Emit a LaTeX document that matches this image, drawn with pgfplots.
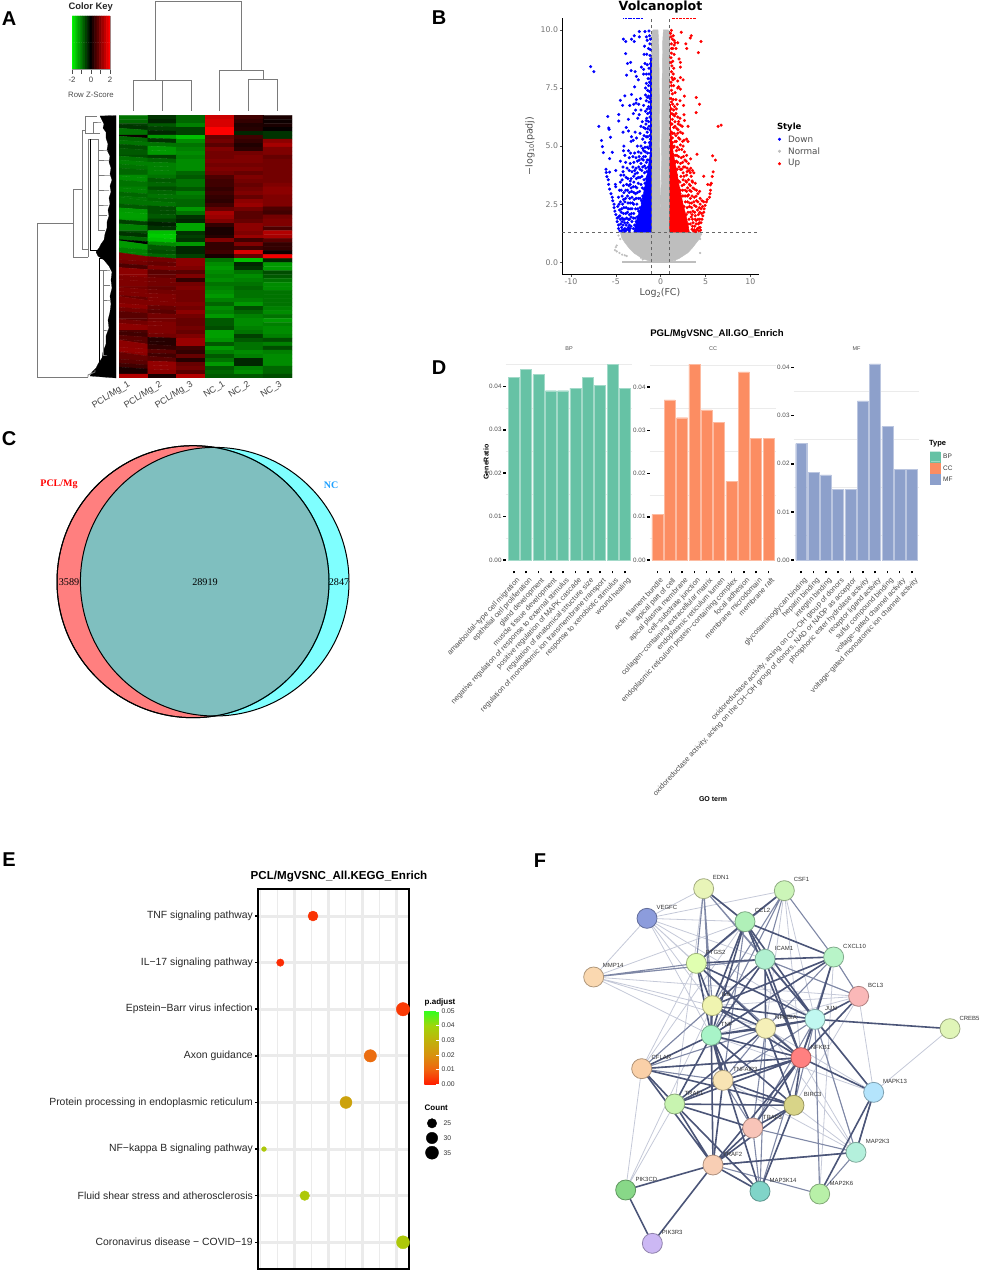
\documentclass[border=0pt]{standalone}
\usepackage{fontspec}
\usepackage{pgfplots}
\pgfplotsset{compat=1.18}
\setmainfont{Liberation Sans}
\newfontfamily\dejavu{DejaVu Sans}
\newfontfamily\libserif{Liberation Serif}
\newcommand{\fs}[1]{\fontsize{#1}{#1}\selectfont}
\pgfkeys{/pgf/number format/assume math mode=true}

\definecolor{gridg}{HTML}{EBEBEB}
\definecolor{tickg}{HTML}{4D4D4D}
\definecolor{normg}{HTML}{BEBEBE}
\definecolor{goBP}{HTML}{66C2A5}
\definecolor{goCC}{HTML}{FC8D62}
\definecolor{goMF}{HTML}{8DA0CB}
\definecolor{dend}{HTML}{7A7A7A}
\definecolor{vennR}{HTML}{FF0000}
\definecolor{vennC}{HTML}{00FFFF}
\definecolor{edgeD}{HTML}{4B5578}
\definecolor{edgeM}{HTML}{7F88A6}
\definecolor{edgeL}{HTML}{C5C9D8}
\definecolor{nEDN}{HTML}{E8F4B8}
\definecolor{nCSF}{HTML}{CCF5B8}
\definecolor{nVEG}{HTML}{8C9CDC}
\definecolor{nCCL}{HTML}{B0F0B8}
\definecolor{nICA}{HTML}{B0F0D0}
\definecolor{nCXC}{HTML}{B8F4C8}
\definecolor{nPTG}{HTML}{E0FFB0}
\definecolor{nMMP}{HTML}{FAD8B0}
\definecolor{nBCL}{HTML}{FAB8B8}
\definecolor{nIL}{HTML}{F0F4B0}
\definecolor{nJUN}{HTML}{C0F8F0}
\definecolor{nNFA}{HTML}{F5F0B8}
\definecolor{nTNF}{HTML}{A8F4C8}
\definecolor{nCRE}{HTML}{E0F5B8}
\definecolor{nNF1}{HTML}{FF8080}
\definecolor{nCFL}{HTML}{FAD0A8}
\definecolor{nTA3}{HTML}{F8E4B4}
\definecolor{nM13}{HTML}{B4E4FC}
\definecolor{nTR1}{HTML}{C8F4B0}
\definecolor{nBIR}{HTML}{D8D488}
\definecolor{nTR3}{HTML}{F8C4B8}
\definecolor{nK3}{HTML}{B4F0DC}
\definecolor{nTR2}{HTML}{F8CEB4}
\definecolor{nPCD}{HTML}{88D888}
\definecolor{nM14}{HTML}{80D4C8}
\definecolor{nK6}{HTML}{B8F0A8}
\definecolor{nPR3}{HTML}{CCB8F4}

% every panel is placed by its pixel box in the reference: left, top, width, height
\pgfplotsset{
  panel/.style n args={4}{scale only axis, anchor=south west,
    at={(#1pt,{1272pt-#2pt-#4pt})}, width=#3pt, height=#4pt},
  colormap={gkr}{rgb255(0)=(0,255,0) rgb255(1)=(0,0,0) rgb255(2)=(255,0,0)},
  goaxis/.style={ybar, bar width=11pt, axis line style={draw=none},
    xtick={1,...,10}, ytick={0,0.01,0.02,0.03,0.04},
    minor ytick={0.005,0.015,0.025,0.035,0.045}, yminorgrids,
    minor grid style={gridg, line width=1pt}, minor tick length=0pt,
    tick style={black, line width=1.5pt}, major tick length=2.5pt, tick align=outside,
    xtick pos=bottom, ytick pos=left, scaled y ticks=false,
    yticklabel style={font=\fs{6.3}, text=tickg, /pgf/number format/fixed,
      /pgf/number format/zerofill, /pgf/number format/precision=2, inner sep=1.5pt},
    xticklabel style={font=\fs{7.4}, text=tickg, rotate=47, anchor=north east,
      inner sep=1pt, yshift=-3pt}},
  prot/.style={only marks, mark=*, mark size=10pt,
    mark options={fill=#1, draw=#1!70!black, line width=0.8pt}}
}
\tikzset{
  netlab/.style={font=\fs{6}, text=black!80, anchor=west, inner sep=0pt},
  samp/.style={font=\fs{9}, text=black!75, rotate=32, anchor=north east, inner sep=0pt}
}

\begin{document}
\begin{tikzpicture}
\useasboundingbox (0,0) rectangle (996pt,1272pt);

% ---- layer in pixel coordinates: dendrograms, texts and small legends
\begin{axis}[panel={0}{0}{996}{1272}, xmin=0, xmax=996, ymin=0, ymax=1272, y dir=reverse,
  hide axis, clip=false]
% top dendrogram
\addplot[dend, line width=0.9pt] coordinates {(133.3,111)(133.3,80)(176.7,80)};
\addplot[dend, line width=0.9pt] coordinates {(162.3,111)(162.3,80.7)(191,80.7)(191,111)};
\addplot[dend, line width=0.9pt] coordinates {(155,80)(155,1.7)(241.3,1.7)(241.3,70.3)};
\addplot[dend, line width=0.9pt] coordinates {(219.7,111)(219.7,70.3)(263.3,70.3)(263.3,79.3)};
\addplot[dend, line width=0.9pt] coordinates {(248.7,111)(248.7,79.3)(277.7,79.3)(277.7,111)};
% left dendrogram, leaves as one mass
\addplot[black, fill=black, line width=0.2pt] coordinates {(116,115.5)(100,116)(102,120)(104,124)(103,128)(106,132)(106,138)(108,144)(107,150)(110,156)(109,162)(111,168)(110,174)(112,180)(110,186)(111,192)(109,198)(110,204)(108,210)(109,216)(107,222)(107,228)(105,234)(104,240)(101,244)(99,248)(96,252)(98,256)(104,260)(109,266)(112,272)(111,280)(112,288)(110,296)(111,304)(110,312)(108,320)(109,328)(106,336)(106,344)(103,352)(102,358)(98,364)(96,368)(92,372)(90,376)(116,378)(116,115.5)};
\addplot[dend, line width=0.9pt] coordinates {(88,377.3)(37.7,377.3)(37.7,223.7)(73.3,223.7)};
\addplot[dend, line width=0.9pt] coordinates {(88,257.3)(73.3,257.3)(73.3,189)(82,189)};
\addplot[dend, line width=0.9pt] coordinates {(88,249)(82,249)(82,130)(85,130)};
\addplot[dend, line width=0.9pt] coordinates {(97,116)(85,116)(85,133)(93,133)(93,122)(101,122)(93,122)(93,133)(100,133)};
\addplot[dend, line width=0.9pt] coordinates {(88,257.3)(88,139)(98,139)(98,230)(105,230)};
\addplot[black, line width=0.7pt] coordinates {(90.5,139)(90.5,250)(100,250)};
\addplot[dend, line width=0.6pt] coordinates {(98,150)(108,150)(98,150)(98,160)(109,160)(98,160)(98,175)(110,175)(98,175)(98,190)(109,190)(98,190)(98,205)(108,205)(98,205)(98,215)(107,215)};
\addplot[dend, line width=0.9pt] coordinates {(88,377)(88,375)(95,372)(95,370)};
\addplot[black, line width=0.7pt] coordinates {(99.5,258)(108,258)(99.5,258)(99.5,372)(103,372)};
\addplot[dend, line width=0.6pt] coordinates {(99.5,270)(110,270)(103,270)(103,355)(107,355)(103,355)(103,330)(108,330)(103,330)(103,300)(110,300)(103,300)(103,285)(110,285)};
% panel letters
\node[font=\fs{20}\bfseries] at (9,19) {A};
\node[font=\fs{20}\bfseries] at (439,18) {B};
\node[font=\fs{20}\bfseries] at (9,439) {C};
\node[font=\fs{20}\bfseries] at (439,368) {D};
\node[font=\fs{20}\bfseries] at (9,860) {E};
\node[font=\fs{20}\bfseries] at (540,861) {F};
% colour key texts
\node[font=\fs{9.4}\bfseries, text=black!85] at (90.7,7.3) {Color Key};
\node[font=\fs{7.8}, text=black!70] at (91,95) {Row Z-Score};
% heatmap sample names
\node[samp] at (127,380) {PCL/Mg\_1};
\node[samp] at (159,380) {PCL/Mg\_2};
\node[samp] at (190,380) {PCL/Mg\_3};
\node[samp] at (222,380) {NC\_1};
\node[samp] at (247,380) {NC\_2};
\node[samp] at (279,380) {NC\_3};
% volcano title and legend
\node[font=\dejavu\bfseries\fs{12.6}] at (660.5,7) {Volcanoplot};
\node[font=\dejavu\fs{9.5}, text=tickg] at (660,293) {Log\raisebox{-1.5pt}{\fs{6.5}2}(FC)};
\node[font=\dejavu\fs{9.5}, text=tickg, rotate=90] at (530,146) {−log\raisebox{-1.5pt}{\fs{6.5}10}(padj)};
\node[font=\dejavu\bfseries\fs{8.5}, anchor=west] at (773.5,126.7) {Style};
\addplot[only marks, mark=*, mark size=1.3pt, blue] coordinates {(779.5,139.3)};
\addplot[only marks, mark=*, mark size=1.3pt, normg] coordinates {(779.5,151.3)};
\addplot[only marks, mark=*, mark size=1.3pt, red] coordinates {(779.5,163.7)};
\node[font=\dejavu\fs{8.8}, text=tickg, anchor=west, inner sep=0pt] at (788,139.3) {Down};
\node[font=\dejavu\fs{8.8}, text=tickg, anchor=west, inner sep=0pt] at (788,151.3) {Normal};
\node[font=\dejavu\fs{8.8}, text=tickg, anchor=west, inner sep=0pt] at (788,163.7) {Up};
% GO bar texts and legend
\node[font=\fs{9.6}\bfseries] at (717,334.5) {PGL/MgVSNC\_All.GO\_Enrich};
\node[font=\fs{5.5}, text=tickg] at (569,349) {BP};
\node[font=\fs{5.5}, text=tickg] at (713,349) {CC};
\node[font=\fs{5.5}, text=tickg] at (856.5,349) {MF};
\node[font=\fs{7}\bfseries, rotate=90] at (486,462) {GeneRatio};
\node[font=\fs{7}\bfseries] at (713,799) {GO term};
\node[font=\fs{7.5}\bfseries, anchor=west, inner sep=0pt] at (929,444) {Type};
\addplot[goBP, fill=goBP] coordinates {(930,451.7)(940,451.7)(940,461.7)(930,461.7)(930,451.7)};
\addplot[goCC, fill=goCC] coordinates {(930,462.9)(940,462.9)(940,472.9)(930,472.9)(930,462.9)};
\addplot[goMF, fill=goMF] coordinates {(930,474)(940,474)(940,484)(930,484)(930,474)};
\node[font=\fs{6.5}, text=black!80, anchor=west, inner sep=0pt] at (943,456.7) {BP};
\node[font=\fs{6.5}, text=black!80, anchor=west, inner sep=0pt] at (943,467.9) {CC};
\node[font=\fs{6.5}, text=black!80, anchor=west, inner sep=0pt] at (943,479) {MF};
% KEGG legend
\node[font=\fs{11.6}\bfseries] at (339,876.5) {PCL/MgVSNC\_All.KEGG\_Enrich};
\node[font=\fs{8}\bfseries, anchor=west, inner sep=0pt] at (424.5,1002.7) {p.adjust};
\node[font=\fs{8}\bfseries, anchor=west, inner sep=0pt] at (424.5,1107.3) {Count};
\addplot[only marks, mark=*, mark size=4.7pt, black] coordinates {(432,1123.3)};
\addplot[only marks, mark=*, mark size=5.7pt, black] coordinates {(432,1138)};
\addplot[only marks, mark=*, mark size=6.5pt, black] coordinates {(432,1152.7)};
\node[font=\fs{6.8}, text=black!80, anchor=west, inner sep=0pt] at (443.5,1123.3) {25};
\node[font=\fs{6.8}, text=black!80, anchor=west, inner sep=0pt] at (443.5,1138) {30};
\node[font=\fs{6.8}, text=black!80, anchor=west, inner sep=0pt] at (443.5,1152.7) {35};
\end{axis}

% ---- A: colour key
\begin{axis}[panel={72}{16}{38}{53}, xmin=-2, xmax=2, ymin=-0.5, ymax=1.5,
  colormap name=gkr, point meta min=-2, point meta max=2,
  ytick=\empty, xtick={-2,-1,0,1,2}, xticklabels={-2,,0,,2},
  xtick pos=bottom, tick align=outside, major tick length=5pt,
  tick style={black!70, line width=0.5pt}, axis line style={black!40, line width=0.3pt},
  xticklabel style={font=\fs{7.8}, text=black!75, inner sep=1.5pt, yshift=-1.5pt}]
\addplot[matrix plot*, mesh/cols=17, point meta=explicit]
  table[row sep=\\, header=false, x expr={-2+0.25*mod(\coordindex,17)}, y expr={int(\coordindex/17)}, meta index=0] {
-2\\-1.75\\-1.5\\-1.25\\-1\\-0.75\\-0.5\\-0.25\\0\\0.25\\0.5\\0.75\\1\\1.25\\1.5\\1.75\\2\\
-2\\-1.75\\-1.5\\-1.25\\-1\\-0.75\\-0.5\\-0.25\\0\\0.25\\0.5\\0.75\\1\\1.25\\1.5\\1.75\\2\\
};
\end{axis}

% ---- A: heatmap, one value per sample and row band
\begin{axis}[panel={119}{115.3}{173}{262.7}, xmin=-0.5, xmax=5.5, ymin=-0.5, ymax=65.5, y dir=reverse,
  hide axis, point meta min=-2, point meta max=2, colormap name=gkr]
\addplot[matrix plot*, mesh/cols=6, point meta=explicit]
  table[row sep=\\, header=false, x expr={int(mod(\coordindex,6))}, y expr={int(\coordindex/6)}, meta index=0] {
-0.9\\-0.4\\-0.8\\1.6\\0.5\\0.2\\
-0.8\\-0.3\\-0.8\\1.7\\0.4\\0.1\\
-0.5\\-0.7\\-1.0\\1.7\\0.25\\0.2\\
-0.4\\-0.5\\-0.5\\2\\0.3\\0.05\\
-0.9\\-0.3\\-0.5\\2\\-0.3\\-0.4\\
0.1\\-1.2\\-1.5\\0.8\\0.5\\-0.4\\
-0.8\\-0.4\\-1.1\\0.9\\0.4\\1.1\\
-0.9\\-0.9\\-0.9\\0.7\\0.25\\1.3\\
-0.6\\-1.2\\-1.0\\1.0\\0.35\\1.0\\
-0.7\\-1.2\\-1.1\\0.9\\0.9\\1.0\\
-0.6\\-0.5\\-1.0\\0.9\\1.0\\0.8\\
-0.9\\-0.8\\-1.1\\1.0\\1.0\\0.9\\
-1.0\\-1.0\\-1.1\\0.9\\0.9\\0.9\\
-0.9\\-1.0\\-1.1\\1.0\\1.0\\0.9\\
-0.8\\-1.0\\-0.8\\0.9\\0.8\\0.9\\
-1.1\\-0.9\\-0.7\\0.6\\1.0\\0.9\\
-1.1\\-0.7\\-0.9\\0.5\\0.9\\0.9\\
-0.9\\-0.8\\-0.9\\0.5\\0.8\\1.0\\
-1.0\\-0.6\\-0.7\\0.4\\0.9\\1.1\\
-1.0\\-0.8\\-1.0\\0.5\\1.0\\1.1\\
-0.8\\-0.9\\-0.9\\0.4\\0.8\\1.0\\
-0.9\\-0.8\\-0.8\\0.35\\1.1\\1.0\\
-0.9\\-0.9\\-0.8\\0.5\\1.2\\1.0\\
-0.7\\-0.6\\-1.2\\0.8\\0.9\\0.6\\
-1.2\\-0.6\\-0.9\\1.3\\0.7\\0.5\\
-1.25\\-0.7\\-0.4\\1.2\\0.7\\0.9\\
-1.2\\-0.5\\-0.3\\1.0\\0.8\\1.0\\
-0.5\\-0.25\\-1.3\\0.4\\1.1\\1.0\\
-1.0\\-0.4\\-1.3\\0.2\\1.1\\0.6\\
-0.6\\-1.5\\-0.4\\0.2\\1.0\\1.4\\
-0.4\\-1.6\\-0.5\\0.3\\1.2\\1.3\\
-0.8\\-1.5\\-0.4\\1.0\\0.5\\0.7\\
0.0\\-1.1\\-1.2\\0.4\\1.0\\0.4\\
-1.2\\-0.7\\-0.3\\0.4\\0.5\\0.4\\
-1.0\\-0.6\\-0.3\\0.5\\1.7\\0.1\\
-1.0\\-0.8\\-0.5\\0.2\\0.8\\1.9\\
1.0\\0.9\\1.1\\-0.9\\-1.5\\-0.3\\
0.9\\0.8\\1.1\\-1.1\\-0.3\\-1.2\\
0.6\\1.0\\1.0\\-1.2\\-0.4\\-1.2\\
1.1\\0.7\\0.7\\-1.1\\-0.9\\-0.6\\
1.1\\0.8\\1.0\\-1.0\\-1.1\\-0.7\\
1.0\\0.9\\0.4\\-1.1\\-1.0\\-0.9\\
1.0\\0.9\\0.9\\-0.9\\-0.9\\-1.1\\
0.9\\0.8\\1.0\\-1.0\\-0.8\\-1.1\\
1.0\\0.9\\0.9\\-1.1\\-0.9\\-0.9\\
1.0\\1.0\\0.9\\-1.2\\-0.9\\-0.9\\
0.8\\1.0\\0.9\\-1.0\\-1.0\\-0.9\\
1.0\\1.0\\1.0\\-0.8\\-1.2\\-0.9\\
1.1\\0.8\\0.9\\-1.1\\-0.6\\-1.0\\
0.9\\0.7\\1.1\\-1.0\\-0.8\\-1.1\\
0.7\\0.9\\0.9\\-1.2\\-1.0\\-0.9\\
0.7\\0.9\\0.8\\-0.7\\-1.1\\-1.2\\
0.9\\1.0\\0.8\\-0.7\\-1.1\\-1.0\\
1.1\\1.0\\0.9\\-0.6\\-1.0\\-1.1\\
0.6\\1.0\\0.8\\-1.25\\-0.9\\-1.1\\
0.5\\0.9\\1.0\\-1.25\\-0.5\\-1.0\\
0.7\\0.3\\1.2\\-1.15\\-0.7\\-0.6\\
0.7\\0.3\\1.2\\-0.7\\-0.9\\-1.0\\
1.1\\0.4\\0.5\\-1.2\\-0.9\\-0.6\\
1.15\\0.7\\0.4\\-1.0\\-1.1\\-1.0\\
1.1\\0.5\\0.8\\-0.7\\-1.0\\-1.1\\
0.8\\0.7\\0.3\\-0.9\\-0.3\\-1.1\\
0.7\\1.15\\0.8\\-1.2\\-0.3\\-1.1\\
0.5\\1.15\\0.9\\-0.7\\-1.0\\-0.8\\
0.2\\1.1\\0.7\\-0.8\\-1.1\\-0.8\\
1.4\\0.2\\1.4\\-0.7\\-0.7\\-0.6\\
};
\end{axis}

% ---- B: volcano plot
\begin{axis}[panel={562.3}{18.3}{196.4}{256}, xmin=-10.97, xmax=10.93, ymin=-0.517, ymax=10.5,
  axis lines=left, axis line style={-, black, line width=0.9pt},
  xtick={-10,-5,0,5,10}, ytick={0,2.5,5,7.5,10}, scaled y ticks=false,
  tick align=outside, major tick length=2.5pt, tick style={tickg, line width=0.5pt},
  ticklabel style={font=\dejavu\fs{7.8}, text=black!55, inner sep=1.5pt},
  yticklabel style={/pgf/number format/fixed, /pgf/number format/fixed zerofill, /pgf/number format/precision=1}]
% Normal: the dense cloud as an outline, a few stray points after it
\addplot[normg, fill=normg] coordinates {(-4.5,1.3)(-4.35,1.05)(-4,0.85)(-3.5,0.6)(-3,0.4)(-2,0.15)(-1,0.02)(1,0.02)(2,0.15)(3,0.4)(3.5,0.6)(4,0.85)(4.4,1.05)(4.5,1.3)(1,1.3)(1.02,9.9)(0.85,10)(0.3,10)(0.22,9.5)(0.17,8)(0.13,6)(0.07,3.5)(0,1.9)(-0.07,3.5)(-0.13,6)(-0.17,8)(-0.22,9.5)(-0.3,10)(-0.85,10)(-1.02,9.9)(-1,1.3)(-4.5,1.3)};
\addplot[normg, line width=2.4pt] coordinates {(-4.3,0)(3.95,0)};
\addplot[only marks, mark=*, mark size=0.9pt, normg] coordinates {(-4.9,0.72)(-5,0.65)(-5.1,0.52)(-4.9,0.47)(-4.6,0.4)(-4.3,0.33)(-4,0.3)(-3.8,0.27)(4.4,0.4)(-2,0.12)(-4.7,1.15)(-4.5,1)(4.5,1.2)(4.4,1)(-2.2,0.2)(1.6,0.1)};
% Down
\addplot[blue, fill=blue] coordinates {(-1,1.3)(-3,1.3)(-2.7,1.8)(-2.2,2.4)(-1.9,3)(-1.5,3.8)(-1.2,4.6)(-1,5.5)(-1,1.3)};
\addplot[blue, line width=1.8pt] coordinates {(-1.1,4)(-1.1,8.7)};
\addplot[only marks, mark=*, mark size=1.35pt, blue] coordinates {
(-7.8,8.42)(-7.45,8.2)(-4.16,9.6)(-3.9,9.5)(-3.25,9.6)(-2.94,9.75)(-2.95,9.5)(-2.38,9.93)(-2.38,9.7)(-1.76,9.93)(-1.6,9.7)(-1.3,9.95)(-1.25,9.75)(-1.5,9.55)(-1.15,9.6)(-1.2,9.4)
(-1.8,9.3)(-1.35,9.2)(-1.15,9.15)(-3.9,8.98)(-1.85,8.95)(-1.55,8.95)(-1.2,8.9)(-1.1,8.75)(-3.7,8.55)(-3.35,8.6)(-1.75,8.55)(-1.5,8.5)(-1.15,8.55)(-3.3,8.25)(-2.85,8.2)(-2.15,8.4)
(-1.9,8.3)(-1.3,8.35)(-3.8,8.05)(-2.7,8)(-1.9,8.1)(-1.6,8.1)(-1.3,8.1)(-2.5,7.85)(-1.4,7.9)(-1.25,7.75)(-2.9,7.55)(-1.7,7.5)(-1.45,7.4)(-1.25,7.35)(-4,7.16)(-3.25,7.22)(-1.7,7.2)(-1.35,7.15)
(-4.5,6.97)(-2.7,7)(-2.25,7.05)(-1.6,6.95)(-1.3,6.9)(-4.25,6.75)(-3.45,6.75)(-3,6.8)(-2.75,6.85)(-2.45,6.8)(-1.9,6.75)(-1.35,6.7)(-2.8,6.55)(-2.2,6.55)(-1.7,6.5)(-3.05,6.4)(-2.4,6.35)(-1.45,6.4)
(-5.9,6.27)(-4.67,6.36)(-4.67,6.08)(-3.6,6.15)(-2.55,6.2)(-1.55,6.2)(-1.2,6.25)(-2.05,6.05)(-1.65,5.95)(-6.9,5.85)(-5.8,5.78)(-5.75,5.72)(-3.85,5.8)(-3.6,5.65)(-2.2,5.85)(-1.9,5.8)(-1.3,5.85)(-4.2,5.6)(-2.85,5.6)(-2.3,5.55)(-1.5,5.6)
(-5.6,5.38)(-3.25,5.4)(-2.7,5.35)(-2,5.3)(-1.45,5.4)(-6.6,5.24)(-3.3,5.2)(-3.05,5.25)(-1.75,5.15)(-1.25,5.15)(-4.1,5)(-2.6,5)(-2.2,5)(-1.5,4.95)(-6.5,4.98)(-4.15,4.8)(-3.6,4.8)(-3.35,4.7)(-2.9,4.7)(-1.9,4.8)(-6.4,4.72)(-5.4,4.73)(-4,4.6)(-3.5,4.5)(-2.4,4.55)(-1.7,4.55)
(-5.7,4.46)(-4.5,4.35)(-3.9,4.3)(-3.4,4.25)(-3,4.3)(-2.6,4.35)(-2.2,4.25)(-1.95,4.4)(-1.6,4.3)(-4.2,4.1)(-3.75,4.05)(-3.1,4.1)(-2.75,4.05)(-2.3,4)(-2,4.1)(-6.1,4)(-5,3.95)(-4.2,3.9)(-3.5,3.95)(-3.2,3.9)(-2.6,3.85)(-1.8,3.85)
(-6.07,3.86)(-6,3.69)(-5.7,3.88)(-4.45,3.75)(-4.1,3.75)(-3.85,3.65)(-3,3.7)(-2.7,3.6)(-2.3,3.65)(-5.85,3.55)(-5.8,3.35)(-4.3,3.55)(-3.4,3.5)(-3,3.45)(-2.5,3.4)(-5.05,3.35)(-5,3.25)(-4.15,3.3)(-3.55,3.3)(-3.3,3.2)(-2.8,3.25)
(-5.7,3.15)(-5.55,2.95)(-4.6,3.1)(-3.9,3.1)(-3.5,3)(-3,3)(-2.6,3)(-5.4,2.8)(-4.3,2.85)(-3.7,2.85)(-3.2,2.8)(-2.75,2.75)(-5.35,2.65)(-5.2,2.5)(-4.5,2.6)(-4,2.6)(-3.4,2.55)(-3,2.5)(-4.8,2.4)(-4.1,2.35)(-3.6,2.3)(-3.2,2.3)
(-5.2,2.35)(-5.1,2.2)(-5,2.05)(-4.85,1.9)(-4.4,2.15)(-3.9,2.1)(-3.5,2.05)(-4.7,1.95)(-4.3,1.9)(-4,1.85)(-3.6,1.85)(-3.3,1.95)(-4.85,1.75)(-4.7,1.6)(-4.45,1.65)(-4.2,1.6)(-3.85,1.6)(-3.5,1.6)(-4.7,1.45)(-4.55,1.35)(-4.2,1.4)(-3.9,1.35)(-3.6,1.4)(-3.4,1.45)
(-1.15,7.9)(-1.35,7.6)(-1.6,7.7)(-1.2,7.05)(-1.5,7.1)(-1.2,6.6)(-1.5,6.6)(-1.2,6.45)(-1.35,6.05)(-1.6,6.1)(-1.2,5.7)(-1.45,5.75)(-1.7,5.75)(-1.2,5.45)(-1.6,5.4)(-1.85,5.45)(-1.15,5.05)(-1.35,4.9)(-1.75,4.95)(-2,4.9)
(-1.15,4.7)(-1.45,4.7)(-1.7,4.75)(-2.2,4.7)(-2.5,4.75)(-1.9,4.55)(-2.1,4.45)(-2.4,4.4)(-2.75,4.5)(-3.1,4.55)(-1.8,4.15)(-2.1,3.95)(-2.45,4.1)(-2.9,3.95)(-2.1,3.7)(-2.5,3.65)(-2.85,3.8)(-3.3,3.6)(-3.65,3.6)
(-2.2,3.35)(-2.65,3.2)(-3.05,3.25)(-3.4,3.35)(-3.8,3.35)(-4.5,3.45)(-2.35,3.05)(-2.8,2.95)(-3.25,3.05)(-3.7,3.1)(-4.1,3)(-4.4,3.1)(-2.5,2.75)(-2.95,2.7)(-3.45,2.75)(-3.9,2.75)(-4.15,2.7)(-4.7,2.8)
(-2.65,2.5)(-3.15,2.55)(-3.65,2.55)(-4.25,2.5)(-4.65,2.5)(-2.8,2.3)(-3.4,2.3)(-3.85,2.35)(-4.35,2.3)(-4.6,2.25)(-3,2.1)(-3.25,2.1)(-3.7,2.15)(-4.15,2.1)(-4.55,2)(-3.05,1.9)(-3.45,1.85)(-3.8,1.9)(-4.15,1.85)(-4.5,1.85)
(-3.2,1.75)(-3.7,1.7)(-4,1.7)(-4.3,1.75)(-3.3,1.55)(-3.6,1.5)(-4,1.45)(-4.35,1.5)(-3.5,1.35)(-3.75,1.42)(-4.05,1.35)(-4.35,1.35)
(-2.9,1.6)(-2.75,1.75)(-2.6,1.95)(-2.45,2.2)(-2.3,2.35)(-2.15,2.65)(-2,2.85)(-1.85,3.15)(-1.75,3.4)(-1.6,3.6)(-1.55,3.9)(-1.4,4.1)(-1.3,4.4)(-2.5,1.7)(-2.35,2)(-2.05,2.55)(-1.9,2.75)(-1.7,3.2)(-1.45,3.7)
(-3.05,1.45)(-2.85,1.9)(-2.55,2.3)(-2.3,2.75)(-2.05,3.2)(-1.85,3.55)(-1.65,4.05)(-1.5,4.4)(-1.2,5)(-1.15,5.3)
};
% Up
\addplot[red, fill=red] coordinates {(1,1.3)(3.2,1.3)(2.9,1.9)(2.5,2.5)(2.1,3.2)(1.8,3.9)(1.4,4.7)(1.05,6)(1,1.3)};
\addplot[red, line width=1.5pt] coordinates {(1.1,4)(1.1,6.8)};
\addplot[only marks, mark=*, mark size=1.35pt, red] coordinates {
(1.2,9.98)(1.1,9.85)(2.3,9.9)(3.4,9.75)(3.3,9.65)(4.5,9.5)(1.3,9.6)(1.5,9.55)(1.2,9.4)(1.5,9.35)(1.9,9.45)(2.8,9.4)(1.35,9.2)(1.7,9.2)(2.9,9.2)(4.2,9.02)(1.2,9)(1.5,8.95)(1.15,8.8)
(2.05,8.75)(2.2,8.6)(2.2,8.4)(1.25,8.45)(1.45,8.35)(1.2,8.2)(1.4,8.1)(1.25,7.95)(1.55,7.9)(2.2,7.95)(2.5,7.85)(1.15,7.75)(1.9,7.8)(1.45,7.6)(1.9,7.5)(2,7.55)(2.2,7.45)(1.2,7.4)(1.3,7.25)(2.65,7.15)
(3.96,7.09)(1.15,7.05)(1.7,7)(2.15,6.95)(4.33,6.8)(1.35,6.8)(2.55,6.75)(1.2,6.6)(1.45,6.55)(1.75,6.6)(3.96,6.44)(2.6,6.35)(1.25,6.4)(1.55,6.3)(1.9,6.25)(2.15,6.2)(1.3,6.15)(2.65,6.1)(1.6,6.05)(2,6.05)
(1.2,5.95)(6.74,5.9)(6.4,5.85)(2.2,5.9)(1.45,5.8)(1.8,5.75)(1.95,5.7)(3.05,5.85)(1.3,5.55)(2.2,5.6)(2.45,5.55)(1.7,5.45)(1.3,5.35)(2,5.35)(2.9,5.3)(1.6,5.2)(2.6,5.25)(3.05,5.2)(1.2,5.1)(2.2,5.05)(2.5,5)(1.5,5)(1.85,4.95)
(5.8,4.58)(6.1,4.4)(4.05,4.65)(2.65,4.75)(1.8,4.6)(3.35,4.45)(2.3,4.5)(2.7,4.4)(1.9,4.3)(2.2,4.25)(3.1,4.25)(2.55,4.1)(3.35,4.05)(5.85,3.89)(2.2,4)(3.55,3.95)(3.15,3.95)(2.5,3.85)(3.7,3.85)(2.9,3.75)
(4.8,3.7)(5.75,3.69)(3.4,3.7)(3.1,3.55)(2.5,3.55)(3.5,3.5)(2.9,3.45)(2.6,3.35)(3.3,3.3)(5.65,3.4)(5.25,3.35)(5.55,3.33)(3.75,3.15)(3,3.2)(2.75,3.1)(3.4,3.05)(5.55,3.1)(3.1,2.9)(2.8,2.85)(3.75,2.8)(3.3,2.75)
(5.5,2.95)(5.45,2.8)(4.4,2.75)(4.15,2.95)(4,2.65)(3.45,2.55)(3,2.6)(5.2,2.7)(5.1,2.6)(4.8,2.6)(4.4,2.5)(3.75,2.45)(3.2,2.4)(4.95,2.45)(4.85,2.3)(4.5,2.3)(4.1,2.25)(3.6,2.2)(3.3,2.15)
(4.8,2.15)(4.7,2)(4.55,2.1)(4.2,2.05)(3.85,2)(3.4,1.95)(4.6,1.85)(4.35,1.85)(3.95,1.8)(3.6,1.7)(4.5,1.7)(4.2,1.65)(3.8,1.55)(4.4,1.5)(4.1,1.45)(3.75,1.4)(4.25,1.35)(3.9,1.32)(4.45,1.38)
(1.15,9.7)(1.4,9.75)(1.2,9.2)(1.6,9.45)(1.15,8.6)(1.35,8.65)(1.35,7.85)(1.2,7.6)(1.6,7.3)(1.4,7)(1.2,6.9)(1.55,6.7)(1.85,6.8)(1.4,6.35)(1.7,6.4)(1.25,5.95)(1.6,5.85)(1.95,5.95)(2.4,5.85)(1.2,5.6)(1.5,5.55)(1.9,5.55)
(1.3,5.15)(1.75,5.2)(2.15,5.3)(2.45,5.2)(1.45,4.95)(1.75,4.8)(2.05,4.85)(2.35,4.85)(1.6,4.6)(2,4.55)(2.55,4.55)(2.9,4.6)(1.75,4.35)(2.45,4.3)(2.85,4.35)(2.05,4.1)(2.35,4)(2.7,4.1)(2.95,4.05)
(2.25,3.7)(2.6,3.7)(2.95,3.9)(3.3,3.85)(2.15,3.45)(2.4,3.3)(2.8,3.5)(3.2,3.35)(3.55,3.45)(3.85,3.4)(2.45,3.1)(2.9,3.05)(3.25,3.1)(3.6,3.2)(4,3.1)(2.6,2.85)(3,2.85)(3.5,2.85)(3.95,2.85)(4.35,3.05)
(2.75,2.6)(3.25,2.55)(3.7,2.6)(4.15,2.6)(4.6,2.65)(2.95,2.35)(3.45,2.35)(3.95,2.4)(4.3,2.35)(4.65,2.4)(3.05,2.15)(3.5,2.05)(3.8,2.15)(4.35,2.15)(3.15,1.85)(3.55,1.85)(3.85,1.85)(4.15,1.85)
(3.3,1.65)(3.55,1.55)(3.95,1.65)(4.3,1.7)(3.5,1.42)(3.65,1.35)(4.05,1.4)(4.3,1.5)
(2.95,1.5)(2.75,1.8)(2.6,2)(2.45,2.3)(2.3,2.6)(2.15,2.95)(2,3.2)(1.9,3.5)(1.75,3.75)(1.6,4.05)(1.5,4.35)(1.35,4.65)(2.35,2)(2.2,2.45)(2,2.85)(1.8,3.3)(1.6,3.7)
(3.05,1.65)(2.85,2.05)(2.6,2.4)(2.4,2.85)(2.2,3.1)(2,3.5)(1.85,4)(1.65,4.3)(1.25,5)(1.2,5.35)
};
% thresholds
\addplot[black!60, dashed, line width=0.6pt] coordinates {(-1,-0.517)(-1,10.5)};
\addplot[black!60, dashed, line width=0.6pt] coordinates {(1,-0.517)(1,10.5)};
\addplot[black!60, dashed, line width=0.6pt] coordinates {(-10.97,1.3)(10.93,1.3)};
% points cut at the top of the range
\addplot[blue, line width=1pt, dash pattern=on 1.2pt off 0.4pt] coordinates {(-4.2,10.47)(-1.9,10.47)};
\addplot[red, line width=1pt, dash pattern=on 2.5pt off 1pt] coordinates {(1.3,10.47)(4,10.47)};
\end{axis}

% ---- C: Venn diagram
\begin{axis}[panel={40}{430}{330}{300}, xmin=40, xmax=370, ymin=430, ymax=730, y dir=reverse,
  hide axis, clip=false]
\addplot[only marks, mark=*, mark size=136pt, mark options={fill=vennR, fill opacity=0.5, draw=black, line width=1pt}] coordinates {(193,581.7)};
\addplot[only marks, mark=*, mark size=134.3pt, mark options={fill=vennC, fill opacity=0.5, draw=black, line width=1pt}] coordinates {(214.7,581.7)};
\addplot[only marks, mark=o, mark size=136pt, mark options={draw=black, line width=1pt}] coordinates {(193,581.7)};
\end{axis}
% marks of an axis cover its nodes, so the Venn texts sit in an axis of their own
\begin{axis}[panel={40}{430}{330}{300}, xmin=40, xmax=370, ymin=430, ymax=730, y dir=reverse,
  hide axis, clip=false]
\node[font=\libserif\fs{10.2}] at (69,582) {3589};
\node[font=\libserif\fs{10.2}] at (205,582) {28919};
\node[font=\libserif\fs{10.2}] at (339,582) {2847};
\node[font=\libserif\bfseries\fs{10}, text=red] at (59,484) {PCL/Mg};
\node[font=\libserif\bfseries\fs{10}, text={rgb,255:red,30;green,160;blue,255}] at (331,485) {NC};
\end{axis}

% ---- D: GO bars
\begin{axis}[goaxis, panel={505.7}{364}{126.3}{207}, xmin=0.343, xmax=10.58, ymin=-0.00253, ymax=0.04516,
  xticklabels={{amaeboidal−type cell migration},{epithelial cell proliferation},{gland development},{muscle tissue development},{negative regulation of response to external stimulus},{positive regulation of MAPK cascade},{regulation of anatomical structure size},{regulation of monoatomic ion transmembrane transport},{response to xenobiotic stimulus},{wound healing}}]
\addplot[fill=goBP, draw=goBP!60!white, line width=0.4pt] coordinates {(1,0.0421)(2,0.0439)(3,0.0427)(4,0.039)(5,0.039)(6,0.0396)(7,0.0421)(8,0.0402)(9,0.0451)(10,0.0396)};
\end{axis}
\begin{axis}[goaxis, panel={649.7}{364}{126}{207}, xmin=0.385, xmax=10.58, ymin=-0.00254, ymax=0.04532,
  xticklabels={{actin filament bundle},{apical part of cell},{apical plasma membrane},{cell−substrate junction},{collagen−containing extracellular matrix},{endoplasmic reticulum lumen},{endoplasmic reticulum protein−containing complex},{focal adhesion},{membrane microdomain},{membrane raft}}]
\addplot[fill=goCC, draw=goCC!60!white, line width=0.4pt] coordinates {(1,0.01056)(2,0.037)(3,0.0329)(4,0.0453)(5,0.0347)(6,0.03175)(7,0.0182)(8,0.0435)(9,0.0282)(10,0.0282)};
\end{axis}
\begin{axis}[goaxis, panel={793.7}{364}{125.6}{207}, xmin=0.39, xmax=10.59, ymin=-0.00229, ymax=0.04076,
  minor ytick={0.005,0.015,0.025,0.035},
  xticklabels={{glycosaminoglycan binding},{heparin binding},{integrin binding},{oxidoreductase activity, acting on CH−OH group of donors},{oxidoreductase activity, acting on the CH−OH group of donors, NAD or NADP as acceptor},{phosphoric ester hydrolase activity},{receptor ligand activity},{sulfur compound binding},{voltage−gated channel activity},{voltage−gated monoatomic ion channel activity}}]
\addplot[fill=goMF, draw=goMF!60!white, line width=0.4pt] coordinates {(1,0.0242)(2,0.01823)(3,0.01768)(4,0.0147)(5,0.0147)(6,0.03307)(7,0.04076)(8,0.02773)(9,0.01886)(10,0.01886)};
\end{axis}

% ---- E: KEGG dot plot
\begin{axis}[panel={258}{889}{151.3}{380.3}, xmin=258, xmax=409.3, ymin=0.42, ymax=8.58,
  axis line style={black, line width=1.9pt},
  xtick={294.7,328.7,362.3,396.3}, minor xtick={260.5,277.3,311.7,345.3,379.3},
  xticklabels={}, xmajorgrids, xminorgrids, ymajorgrids,
  major grid style={gridg, line width=3pt}, minor grid style={gridg, line width=1.3pt},
  xtick style={draw=none}, minor tick length=0pt,
  ytick={1,...,8}, ytick pos=left, tick align=outside, major tick length=3pt,
  ytick style={black, line width=1.5pt},
  yticklabels={{Coronavirus disease − COVID−19},{Fluid shear stress and atherosclerosis},{NF−kappa B signaling pathway},{Protein processing in endoplasmic reticulum},{Axon guidance},{Epstein−Barr virus infection},{IL−17 signaling pathway},{TNF signaling pathway}},
  yticklabel style={font=\fs{10.4}, text=black!85, inner sep=2pt},
  point meta min=0, point meta max=0.05,
  colormap={padj}{rgb255(0)=(255,30,0) rgb255(1)=(240,100,15) rgb255(2)=(216,146,15) rgb255(3)=(192,178,10) rgb255(4)=(160,214,10) rgb255(5)=(50,255,30)},
  colorbar, colorbar shift/.style={xshift=0pt},
  colorbar style={at={(424.3pt,187.7pt)}, anchor=south west, scale only axis,
    width=15pt, height=73.3pt, ytick={0,0.01,0.02,0.03,0.04,0.05}, scaled y ticks=false,
    ytick pos=right, yticklabel pos=right, tick align=inside, major tick length=3pt,
    tick style={white, line width=0.6pt}, axis line style={draw=none},
    yticklabel style={font=\fs{6.8}, text=black!80, /pgf/number format/fixed,
      /pgf/number format/zerofill, /pgf/number format/precision=2, inner sep=2pt}}]
\addplot[scatter, only marks, mark=*, scatter src=explicit,
  scatter/use mapped color={draw=mapped color, fill=mapped color},
  visualization depends on={\thisrow{r} \as \rad},
  scatter/@pre marker code/.append style={/tikz/mark size=\rad pt}]
  table[x=x, y=y, meta=p] {
x y p r
313 8 0.003 5
280.3 7 0.002 3.7
403 6 0.004 6.7
370.3 5 0.012 6.2
346 4 0.025 6
264 3 0.036 2.4
304.7 2 0.036 4.8
403 1 0.036 6.5
};
\end{axis}

% ---- F: interaction network, coordinates at three times the pixel scale
\begin{axis}[panel={570}{860}{426}{412}, xmin=0, xmax=1278, ymin=0, ymax=1236, y dir=reverse,
  hide axis, clip=false]
% weak links
\addplot[edgeL, line width=0.8pt] coordinates {(231,175)(71,351)(525,185)(71,351)(585,298)(71,351)(427,437)(71,351)(424,526)(71,351)(866,409)(71,351)(587,505)};
\addplot[edgeL, line width=0.8pt] coordinates {(401,86)(231,175)(643,92)(231,175)(525,185)(231,175)(585,298)(231,175)(379,310)(231,175)(427,437)(231,175)(424,526)(231,175)(587,505)(231,175)(735,478)};
\addplot[edgeL, line width=0.8pt] coordinates {(1140,506)(911,697)(424,526)(911,697)(587,505)(911,697)(585,298)(911,697)(866,409)};
\addplot[edgeL, line width=0.8pt] coordinates {(587,505)(858,877)(672,736)(858,877)(459,661)(858,877)(735,478)(858,877)(693,593)};
\addplot[edgeL, line width=0.8pt] coordinates {(314,732)(167,990)(427,437)(167,990)(215,626)};
\addplot[edgeL, line width=0.8pt] coordinates {(401,86)(314,732)(215,626)(379,310)(525,185)(215,626)(585,298)};
\addplot[edgeL, line width=0.8pt] coordinates {(791,291)(866,409)(424,526)(866,409)(427,437)(866,409)(672,736)(866,409)(585,298)};
\addplot[edgeL, line width=0.8pt] coordinates {(643,92)(693,593)(643,92)(587,505)(643,92)(735,478)(791,291)(749,1002)(735,478)};
% medium links
\addplot[edgeM, line width=1.1pt] coordinates {(379,310)(71,351)(585,298)(401,86)(379,310)(401,86)(427,437)(401,86)(424,526)(401,86)(525,185)(401,86)(735,478)};
\addplot[edgeM, line width=1.1pt] coordinates {(791,291)(643,92)(427,437)(643,92)(424,526)(643,92)(585,298)(643,92)(379,310)};
\addplot[edgeM, line width=1.1pt] coordinates {(587,505)(791,291)(693,593)(791,291)(866,409)(585,298)};
\addplot[edgeM, line width=1.1pt] coordinates {(587,505)(459,661)(548,804)(459,661)(215,626)(459,661)(525,185)};
\addplot[edgeM, line width=1.1pt] coordinates {(587,505)(215,626)(693,593)(215,626)(427,437)};
\addplot[edgeM, line width=1.1pt] coordinates {(570,994)(548,804)(858,877)(548,804)(735,478)(548,804)(587,505)};
\addplot[edgeM, line width=1.1pt] coordinates {(749,1002)(429,915)(858,877)(735,478)(749,1002)(858,877)(911,697)};
\addplot[edgeM, line width=1.1pt] coordinates {(693,593)(570,994)(587,505)(672,736)(735,478)(459,661)(693,593)(379,310)};
% strong links
\addplot[edgeD, line width=1.6pt] coordinates {(427,437)(424,526)(379,310)(424,526)(525,185)(424,526)(585,298)(424,526)(791,291)(424,526)(735,478)(424,526)(587,505)(424,526)(693,593)(424,526)(459,661)(424,526)(314,732)(424,526)(672,736)(424,526)(548,804)(424,526)(429,915)(424,526)(215,626)(424,526)(570,994)};
\addplot[edgeD, line width=1.6pt] coordinates {(379,310)(427,437)(525,185)(427,437)(585,298)(427,437)(791,291)(427,437)(735,478)(427,437)(587,505)(427,437)(693,593)};
\addplot[edgeD, line width=1.6pt] coordinates {(735,478)(693,593)(587,505)(693,593)(459,661)(693,593)(672,736)(693,593)(548,804)(693,593)(314,732)(693,593)(429,915)(693,593)(585,298)(693,593)(525,185)(693,593)(866,409)(693,593)(911,697)(693,593)(215,626)};
\addplot[edgeD, line width=1.6pt] coordinates {(587,505)(735,478)(585,298)(735,478)(791,291)(735,478)(1140,506)(735,478)(866,409)(735,478)(911,697)(735,478)(525,185)(735,478)(379,310)};
\addplot[edgeD, line width=1.6pt] coordinates {(314,732)(429,915)(459,661)(429,915)(672,736)(429,915)(548,804)(429,915)(570,994)(429,915)(167,990)(429,915)(247,1150)(429,915)(215,626)(429,915)(858,877)};
\addplot[edgeD, line width=1.6pt] coordinates {(215,626)(314,732)(459,661)(314,732)(672,736)(314,732)(548,804)(314,732)(570,994)(314,732)(587,505)};
\addplot[edgeD, line width=1.6pt] coordinates {(459,661)(672,736)(587,505)(672,736)(548,804)(672,736)(215,626)(672,736)(570,994)};
\addplot[edgeD, line width=1.6pt] coordinates {(585,298)(525,185)(791,291)(525,185)(379,310)(525,185)(401,86)(525,185)(643,92)};
\addplot[edgeD, line width=1.6pt] coordinates {(791,291)(585,298)(379,310)(585,298)(587,505)(379,310)};
\addplot[edgeD, line width=1.6pt] coordinates {(247,1150)(167,990)};
\addplot[edgeD, line width=1.6pt] coordinates {(749,1002)(911,697)(858,877)};
% proteins
\addplot[prot=nEDN] coordinates {(401,86)};
\addplot[prot=nCSF] coordinates {(643,92)};
\addplot[prot=nVEG] coordinates {(231,175)};
\addplot[prot=nCCL] coordinates {(525,185)};
\addplot[prot=nICA] coordinates {(585,298)};
\addplot[prot=nCXC] coordinates {(791,291)};
\addplot[prot=nPTG] coordinates {(379,310)};
\addplot[prot=nMMP] coordinates {(71,351)};
\addplot[prot=nBCL] coordinates {(866,409)};
\addplot[prot=nIL] coordinates {(427,437)};
\addplot[prot=nJUN] coordinates {(735,478)};
\addplot[prot=nNFA] coordinates {(587,505)};
\addplot[prot=nTNF] coordinates {(424,526)};
\addplot[prot=nCRE] coordinates {(1140,506)};
\addplot[prot=nNF1] coordinates {(693,593)};
\addplot[prot=nCFL] coordinates {(215,626)};
\addplot[prot=nTA3] coordinates {(459,661)};
\addplot[prot=nM13] coordinates {(911,697)};
\addplot[prot=nTR1] coordinates {(314,732)};
\addplot[prot=nBIR] coordinates {(672,736)};
\addplot[prot=nTR3] coordinates {(548,804)};
\addplot[prot=nK3] coordinates {(858,877)};
\addplot[prot=nTR2] coordinates {(429,915)};
\addplot[prot=nPCD] coordinates {(167,990)};
\addplot[prot=nM14] coordinates {(570,994)};
\addplot[prot=nK6] coordinates {(749,1002)};
\addplot[prot=nPR3] coordinates {(247,1150)};
\end{axis}
% protein names over the marks
\begin{axis}[panel={570}{860}{426}{412}, xmin=0, xmax=1278, ymin=0, ymax=1236, y dir=reverse,
  hide axis, clip=false]
\node[netlab] at (428,52) {EDN1};
\node[netlab] at (671,58) {CSF1};
\node[netlab] at (259,142) {VEGFC};
\node[netlab] at (554,152) {CCL2};
\node[netlab] at (614,265) {ICAM1};
\node[netlab] at (819,258) {CXCL10};
\node[netlab] at (407,278) {PTGS2};
\node[netlab] at (98,317) {MMP14};
\node[netlab] at (894,376) {BCL3};
\node[netlab] at (455,404) {IL6};
\node[netlab] at (765,444) {JUN};
\node[netlab] at (615,471) {NFKBIA};
\node[netlab] at (452,493) {TNF};
\node[netlab] at (1168,474) {CREB5};
\node[netlab] at (722,561) {NFKB1};
\node[netlab] at (244,592) {CFLAR};
\node[netlab] at (489,627) {TNFAIP3};
\node[netlab] at (939,664) {MAPK13};
\node[netlab] at (343,699) {TRAF1};
\node[netlab] at (701,702) {BIRC3};
\node[netlab] at (578,771) {TRAF3};
\node[netlab] at (887,844) {MAP2K3};
\node[netlab] at (459,883) {TRAF2};
\node[netlab] at (196,957) {PIK3CD};
\node[netlab] at (598,960) {MAP3K14};
\node[netlab] at (778,969) {MAP2K6};
\node[netlab] at (275,1117) {PIK3R3};
\end{axis}
\end{tikzpicture}
\end{document}
